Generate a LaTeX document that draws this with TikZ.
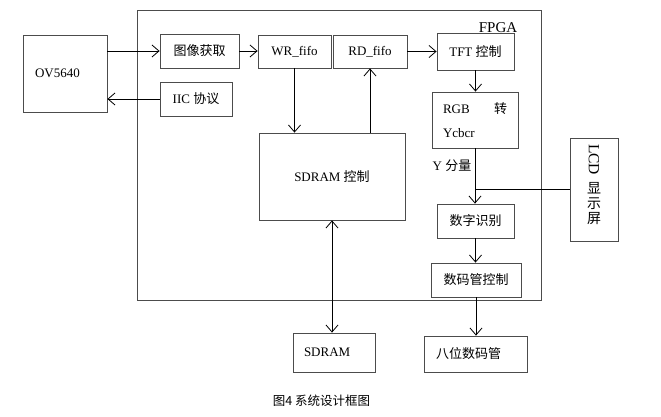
\documentclass[tikz,border=0pt]{standalone}
\usepackage{fontspec}
\setmainfont{Liberation Serif}
\newfontfamily\cjk{Noto Sans CJK SC}
\usetikzlibrary{arrows.meta}

\begin{document}
\begin{tikzpicture}[x=1pt,y=-1pt,
	blk/.style={draw=black!70, line width=0.8pt, inner sep=0pt, font=\fontsize{13}{15}\selectfont},
	lnk/.style={black, line width=0.8pt, -{Straight Barb[length=7pt,width=12pt]}},
	lnk2/.style={black, line width=0.8pt, {Straight Barb[length=7pt,width=12pt]}-{Straight Barb[length=7pt,width=12pt]}}]
	\useasboundingbox (0,0) rectangle (661,417);
		\node[blk, minimum width=404, minimum height=290] (fpga) at (339,155) {};
		\node[font=\fontsize{15}{17}\selectfont, inner sep=0pt] (fpgalbl) at (498,28) {FPGA};
		\node[blk, minimum width=84, minimum height=77, text width=60, inner xsep=12, align=left] (ov) at (65,73.5) {OV5640};
		\node[blk, minimum width=79, minimum height=34] (img) at (199.5,51) {\cjk 图像获取};
		\node[blk, minimum width=72, minimum height=34] (iic) at (196,99) {IIC {\cjk 协议}};
		\node[blk, minimum width=73, minimum height=33] (wr) at (294.5,51.5) {WR\_fifo};
		\node[blk, minimum width=74, minimum height=33] (rd) at (370,51.5) {RD\_fifo};
		\node[blk, minimum width=77, minimum height=37] (tft) at (475.5,51.5) {TFT {\cjk 控制}};
		\node[blk, minimum width=86, minimum height=56, text width=64, inner xsep=11, align=left,
			font=\fontsize{13}{24}\selectfont] (rgb) at (475,120) {RGB\hfill{\cjk 转}\\Ycbcr};
		\node[blk, minimum width=48, minimum height=103] (lcd) at (594,189.5) {};
		\node[rotate=-90, inner sep=0pt, font=\fontsize{15.5}{17}\selectfont] (lcdt) at (594,159.5) {LCD};
		\node[inner sep=0pt, align=center, font=\cjk\fontsize{14}{15}\selectfont] (lcdc) at (594,203.5) {显\\示\\屏};
		\node[blk, minimum width=146, minimum height=87] (sdc) at (332,176.5) {SDRAM {\cjk 控制}};
		\node[blk, minimum width=77, minimum height=34] (digit) at (475.5,221) {\cjk 数字识别};
		\node[blk, minimum width=90, minimum height=34] (seg) at (476,280) {\cjk 数码管控制};
		\node[blk, minimum width=82, minimum height=39, text width=60, inner xsep=11, align=left] (sdram) at (334,352.5) {SDRAM};
		\node[blk, minimum width=103, minimum height=36, text width=79, inner xsep=12, align=left] (eight) at (475.5,354) {\cjk 八位数码管};
		\node[font=\fontsize{13}{15}\selectfont, inner sep=0pt] (ylbl) at (452,166) {Y {\cjk 分量}};
		\node[font=\cjk\fontsize{12.5}{14}\selectfont, inner sep=0pt] (cap) at (321.5,401) {图4 系统设计框图};
		\draw[lnk] (ov.east |- img.west) -- (img.west);
		\draw[lnk] (img.east) -- (img.east -| wr.west);
		\draw[lnk] (iic.west) -- (iic.west -| ov.east);
		\draw[lnk] (wr.south) -- (wr.south |- sdc.north);
		\draw[lnk] (rd.south |- sdc.north) -- (rd.south);
		\draw[lnk] (rd.east) -- (rd.east -| tft.west);
		\draw[lnk] (tft.south) -- (tft.south |- rgb.north);
		\draw[lnk] (rgb.south) -- (rgb.south |- digit.north);
		\draw[black, line width=0.8pt] (lcd.west) -- (lcd.west -| rgb.south);
		\draw[lnk] (digit.south) -- (digit.south |- seg.north);
		\draw[lnk] (seg.south) -- (seg.south |- eight.north);
		\draw[lnk2] (sdc.south) -- (sdc.south |- sdram.north);
	\end{tikzpicture}
\end{document}
